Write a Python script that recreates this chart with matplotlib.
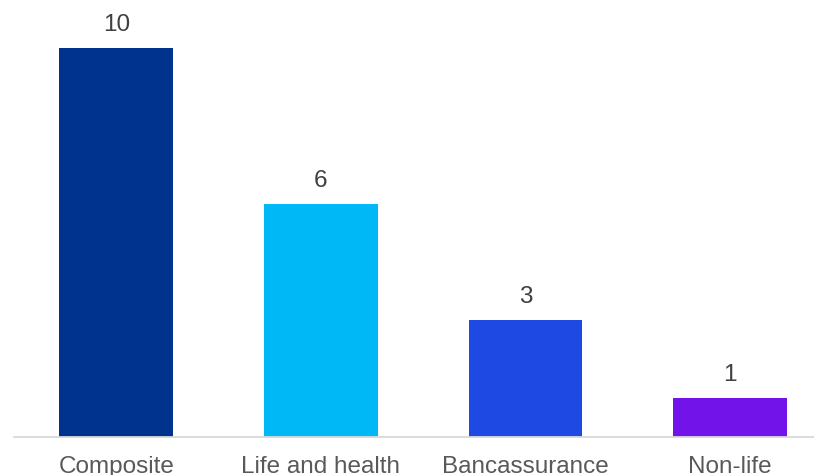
import matplotlib
matplotlib.use("Agg")
import matplotlib.pyplot as plt

categories = ["Composite", "Life and health", "Bancassurance", "Non-life"]
values = [10, 6, 3, 1]
colors = ["#00338D", "#00B8F5", "#1E49E2", "#7213EA"]

plt.rcParams["font.family"] = ["Liberation Sans", "DejaVu Sans"]

fig = plt.figure(figsize=(8.14, 4.75), dpi=100)
ax = fig.add_axes([14 / 814, 38 / 475, 800 / 814, 437 / 475])

x = range(len(categories))
bars = ax.bar(x, values, width=0.557, color=colors, zorder=2)

for b, v in zip(bars, values):
    ax.annotate(str(v), (b.get_x() + b.get_width() / 2, v),
                xytext=(0, 8.5), textcoords="offset points",
                ha="center", va="bottom", fontsize=17.5, color="#404040")

ax.set_xlim(-0.5, 3.41)
ax.set_ylim(0, 437 / 38.9)
ax.set_xticks(list(x))
ax.set_xticklabels(categories, fontsize=17.5, color="#595959")
ax.tick_params(axis="x", length=0, pad=13.5)
ax.set_yticks([])
for s in ["top", "right", "left"]:
    ax.spines[s].set_visible(False)
ax.spines["bottom"].set_color("#D9D9D9")
ax.spines["bottom"].set_linewidth(1.3)

fig.savefig("out.png", dpi=100)
